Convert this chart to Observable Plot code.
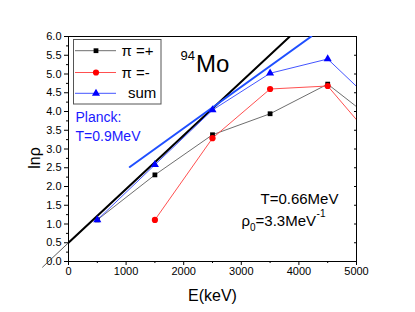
<!DOCTYPE html>
<html><head><meta charset="utf-8">
<script src="https://cdn.jsdelivr.net/npm/d3@7"></script>
<script src="https://cdn.jsdelivr.net/npm/@observablehq/plot@0.6"></script>
<style>
body{margin:0;background:#fff;}
#chart{position:relative;width:415px;height:312px;}
#chart svg{overflow:visible;}
#legend{position:absolute;left:0;top:0;pointer-events:none;}
</style></head><body><div id="chart"></div>
<script>
// ---- data ----
const energies = [500, 1500, 2500, 3500, 4500, 5500];
const piPlus  = [1.11, 2.31, 3.38, 3.94, 4.73, 3.53];
const piMinus = [null, 1.11, 3.29, 4.60, 4.68, 2.88];
const sumVals = [1.11, 2.58, 4.04, 5.02, 5.40, 3.94];
const seriesNames = ["π =+", "π =-", "sum"];
const lineColors = ["#6e6e6e", "#ff5050", "#4455ff"];
const markColors = ["#000000", "#ff0000", "#0000ff"];
const symbols = ["square", "circle", "triangle"];
const markR = [2.7, 3.1, 3.0];
// constant-temperature fit (thick black) and its thin extension
const ctFitE = [0, 3842];   const ctFitV = [0.5, 6.0];
const ctExtE = [-450, 0];   const ctExtV = [-0.15, 0.5];
// Planck fit (thick blue)
const planckE = [1064, 4214]; const planckV = [2.52, 6.0];
// ticks
const yTicks = d3.range(0, 6.001, 0.5);
const yMinor = d3.range(0.25, 6, 0.5);
const xTicks = [0, 1000, 2000, 3000, 4000, 5000];
const xMinor = [500, 1500, 2500, 3500, 4500];

const FONT = "Arial, 'Liberation Sans', sans-serif";
const ML = 68, MT = 36;

const rows = (xs, ys) => xs.map((E, i) => ({E, v: ys[i]})).filter(d => d.v != null);
const seriesVals = [piPlus, piMinus, sumVals];

const ctx = document.createElement("canvas").getContext("2d");
function tw(s, size) { ctx.font = `${size}px Arial, 'Liberation Sans'`; return ctx.measureText(s).width; }
function annot(t, px, base, size, fill = "black") {
  return Plot.text([t], {text: d => d, frameAnchor: "top-left", dx: px - ML, dy: base - MT,
    textAnchor: "start", lineAnchor: "bottom", fontSize: size, fill});
}

const marks = [
  Plot.frame({stroke: "black", strokeWidth: 1}),
  Plot.axisY({ticks: yTicks, tickFormat: d3.format(".1f"), tickSize: 4, tickPadding: 3, fontSize: 11, label: null}),
  Plot.axisY({ticks: yMinor, tickFormat: () => "", tickSize: 2, label: null}),
  Plot.axisY({anchor: "right", ticks: yTicks, tickFormat: () => "", tickSize: -3, label: null}),
  Plot.axisX({ticks: xTicks, tickFormat: d3.format("d"), tickSize: 4, tickPadding: 2, fontSize: 11, label: null}),
  Plot.axisX({ticks: xMinor, tickFormat: () => "", tickSize: 2, label: null}),
  Plot.line(rows(ctExtE, ctExtV), {x: "E", y: "v", stroke: "#333", strokeWidth: 0.8}),
  Plot.line(rows(ctFitE, ctFitV), {x: "E", y: "v", stroke: "black", strokeWidth: 2, clip: true}),
  Plot.line(rows(planckE, planckV), {x: "E", y: "v", stroke: "#1f4fff", strokeWidth: 2, clip: true}),
];
seriesVals.forEach((vals, i) => {
  marks.push(Plot.line(rows(energies, vals), {x: "E", y: "v", stroke: lineColors[i], strokeWidth: 1, clip: true}));
});
seriesVals.forEach((vals, i) => {
  marks.push(Plot.dot(rows(energies, vals), {x: "E", y: "v", symbol: symbols[i], r: markR[i], fill: markColors[i], stroke: "none", clip: true}));
});

// axis titles
marks.push(Plot.text(["lnρ"], {text: d => d, frameAnchor: "left", dx: -34, dy: 9, rotate: -90, fontSize: 16, lineAnchor: "middle", textAnchor: "middle"}));
marks.push(Plot.text(["E(keV)"], {text: d => d, frameAnchor: "bottom", dy: 34, fontSize: 16, lineAnchor: "middle", textAnchor: "middle"}));

// annotations
marks.push(annot("Planck:", 75, 121.5, 14, "#1a1aff"));
marks.push(annot("T=0.9MeV", 75, 140, 14, "#1a1aff"));
marks.push(annot("94", 180, 59.5, 13));
marks.push(annot("Mo", 180 + tw("94", 13) + 1, 71.7, 24));
marks.push(annot("T=0.66MeV", 260, 203, 15));
{
  let x = 241;
  marks.push(annot("ρ", x, 225, 15)); x += tw("ρ", 15);
  marks.push(annot("0", x, 230.5, 10)); x += tw("0", 10);
  marks.push(annot("=3.3MeV", x, 225, 15)); x += tw("=3.3MeV", 15) + 0.5;
  marks.push(annot("-1", x, 216, 10));
}

const plot = Plot.plot({
  width: 415, height: 312,
  marginLeft: ML, marginRight: 59, marginTop: MT, marginBottom: 51,
  x: {domain: [0, 5000]},
  y: {domain: [0, 6]},
  style: {fontFamily: FONT, background: "white", color: "black"},
  marks
});
const chart = document.getElementById("chart");
chart.appendChild(plot);

// legend overlay (same data arrays)
const leg = d3.select(chart).append("svg").attr("id", "legend").attr("width", 415).attr("height", 312)
  .style("font-family", FONT);
leg.append("rect").attr("x", 73.5).attr("y", 39.5).attr("width", 87.5).attr("height", 64.5)
  .attr("fill", "white").attr("stroke", "#555").attr("stroke-width", 1);
const rowY = [50.7, 72.5, 93.3];
const symMap = {square: d3.symbolSquare, circle: d3.symbolCircle, triangle: d3.symbolTriangle};
seriesNames.forEach((name, i) => {
  leg.append("line").attr("x1", 75).attr("x2", 116).attr("y1", rowY[i]).attr("y2", rowY[i])
    .attr("stroke", lineColors[i]).attr("stroke-width", 1);
  leg.append("path").attr("d", d3.symbol(symMap[symbols[i]], Math.PI * markR[i] * markR[i])())
    .attr("transform", `translate(96,${rowY[i]})`).attr("fill", markColors[i]);
  leg.append("text").attr("x", i === 2 ? 128 : 121.5).attr("y", rowY[i] + 5)
    .attr("font-size", 15).text(name);
});
</script>
</body></html>
